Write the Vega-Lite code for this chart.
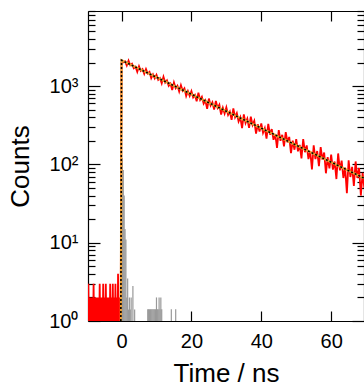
{
  "$schema": "https://vega.github.io/schema/vega-lite/v6.json",
  "width": 276,
  "height": 310,
  "autosize": {"type": "none"},
  "padding": {"left": 88, "top": 11, "right": 0, "bottom": 66},
  "background": "white",
  "config": {
    "font": "Liberation Sans",
    "view": {"stroke": null},
    "axis": {
      "grid": false,
      "domainColor": "#000000",
      "domainWidth": 1.2,
      "tickColor": "#000000",
      "tickWidth": 1.2,
      "labelFont": "Liberation Sans",
      "labelFontSize": 20,
      "labelColor": "#000000",
      "titleFont": "Liberation Sans",
      "titleFontSize": 26,
      "titleFontWeight": "normal",
      "titleColor": "#000000"
    }
  },
  "datasets": {
    "decay": [
      {"t": -9.75, "c": 2}, {"t": -9.625, "c": 1}, {"t": -9.5, "c": 3}, {"t": -9.375, "c": 1}, {"t": -9.25, "c": 2},
      {"t": -9.125, "c": 1}, {"t": -9, "c": 1}, {"t": -8.875, "c": 1}, {"t": -8.75, "c": 2}, {"t": -8.625, "c": 1},
      {"t": -8.5, "c": 2}, {"t": -8.375, "c": 1}, {"t": -8.25, "c": 2}, {"t": -8.125, "c": 1}, {"t": -8, "c": 3},
      {"t": -7.875, "c": 1}, {"t": -7.75, "c": 2}, {"t": -7.625, "c": 1}, {"t": -7.5, "c": 2}, {"t": -7.375, "c": 1},
      {"t": -7.25, "c": 1}, {"t": -7.125, "c": 1}, {"t": -7, "c": 2}, {"t": -6.875, "c": 1}, {"t": -6.75, "c": 2},
      {"t": -6.625, "c": 1}, {"t": -6.5, "c": 2}, {"t": -6.375, "c": 1}, {"t": -6.25, "c": 3}, {"t": -6.125, "c": 1},
      {"t": -6, "c": 2}, {"t": -5.875, "c": 1}, {"t": -5.75, "c": 2}, {"t": -5.625, "c": 1}, {"t": -5.5, "c": 2},
      {"t": -5.375, "c": 1}, {"t": -5.25, "c": 3}, {"t": -5.125, "c": 1}, {"t": -5, "c": 2}, {"t": -4.875, "c": 1},
      {"t": -4.75, "c": 2}, {"t": -4.625, "c": 1}, {"t": -4.5, "c": 3}, {"t": -4.375, "c": 1}, {"t": -4.25, "c": 1},
      {"t": -4.125, "c": 1}, {"t": -4, "c": 2}, {"t": -3.875, "c": 1}, {"t": -3.75, "c": 2}, {"t": -3.625, "c": 1},
      {"t": -3.5, "c": 2}, {"t": -3.375, "c": 1}, {"t": -3.25, "c": 3}, {"t": -3.125, "c": 1}, {"t": -3, "c": 2},
      {"t": -2.875, "c": 1}, {"t": -2.75, "c": 2}, {"t": -2.625, "c": 1}, {"t": -2.5, "c": 3}, {"t": -2.375, "c": 1},
      {"t": -2.25, "c": 1}, {"t": -2.125, "c": 1}, {"t": -2, "c": 2}, {"t": -1.875, "c": 1}, {"t": -1.75, "c": 3},
      {"t": -1.625, "c": 1}, {"t": -1.5, "c": 2}, {"t": -1.375, "c": 1}, {"t": -1.25, "c": 2}, {"t": -1.125, "c": 1},
      {"t": -1, "c": 4}, {"t": -0.875, "c": 1}, {"t": -0.75, "c": 2}, {"t": -0.625, "c": 1}, {"t": -0.5, "c": 2},
      {"t": -0.375, "c": 1}, {"t": -0.25, "c": 1},
      {"t": 0, "c": 2000}, {"t": 0.5, "c": 2003}, {"t": 1, "c": 2070}, {"t": 1.5, "c": 1832}, {"t": 2, "c": 2119},
      {"t": 2.5, "c": 1843}, {"t": 3, "c": 1926}, {"t": 3.5, "c": 1693}, {"t": 4, "c": 1767}, {"t": 4.5, "c": 1518},
      {"t": 5, "c": 1795}, {"t": 5.5, "c": 1568}, {"t": 6, "c": 1648}, {"t": 6.5, "c": 1435}, {"t": 7, "c": 1655},
      {"t": 7.5, "c": 1448}, {"t": 8, "c": 1518}, {"t": 8.5, "c": 1265}, {"t": 9, "c": 1408}, {"t": 9.5, "c": 1256},
      {"t": 10, "c": 1391}, {"t": 10.5, "c": 1201}, {"t": 11, "c": 1262}, {"t": 11.5, "c": 1086}, {"t": 12, "c": 1318},
      {"t": 12.5, "c": 1111}, {"t": 13, "c": 1183}, {"t": 13.5, "c": 1009}, {"t": 14, "c": 1076}, {"t": 14.5, "c": 888},
      {"t": 15, "c": 1112}, {"t": 15.5, "c": 941}, {"t": 16, "c": 1011}, {"t": 16.5, "c": 851}, {"t": 17, "c": 1028},
      {"t": 17.5, "c": 873}, {"t": 18, "c": 934}, {"t": 18.5, "c": 745}, {"t": 19, "c": 861}, {"t": 19.5, "c": 751},
      {"t": 20, "c": 861}, {"t": 20.5, "c": 718}, {"t": 21, "c": 771}, {"t": 21.5, "c": 639}, {"t": 22, "c": 824},
      {"t": 22.5, "c": 668}, {"t": 23, "c": 730}, {"t": 23.5, "c": 599}, {"t": 24, "c": 655}, {"t": 24.5, "c": 513},
      {"t": 25, "c": 693}, {"t": 25.5, "c": 564}, {"t": 26, "c": 621}, {"t": 26.5, "c": 503}, {"t": 27, "c": 645},
      {"t": 27.5, "c": 527}, {"t": 28, "c": 578}, {"t": 28.5, "c": 433}, {"t": 29, "c": 528}, {"t": 29.5, "c": 446},
      {"t": 30, "c": 534}, {"t": 30.5, "c": 428}, {"t": 31, "c": 472}, {"t": 31.5, "c": 371}, {"t": 32, "c": 520},
      {"t": 32.5, "c": 401}, {"t": 33, "c": 451}, {"t": 33.5, "c": 353}, {"t": 34, "c": 399}, {"t": 34.5, "c": 291},
      {"t": 35, "c": 434}, {"t": 35.5, "c": 337}, {"t": 36, "c": 384}, {"t": 36.5, "c": 293}, {"t": 37, "c": 407},
      {"t": 37.5, "c": 319}, {"t": 38, "c": 360}, {"t": 38.5, "c": 248}, {"t": 39, "c": 325}, {"t": 39.5, "c": 263},
      {"t": 40, "c": 334}, {"t": 40.5, "c": 253}, {"t": 41, "c": 290}, {"t": 41.5, "c": 213}, {"t": 42, "c": 330},
      {"t": 42.5, "c": 240}, {"t": 43, "c": 282}, {"t": 43.5, "c": 206}, {"t": 44, "c": 244}, {"t": 44.5, "c": 162},
      {"t": 45, "c": 274}, {"t": 45.5, "c": 200}, {"t": 46, "c": 239}, {"t": 46.5, "c": 170}, {"t": 47, "c": 258},
      {"t": 47.5, "c": 191}, {"t": 48, "c": 224}, {"t": 48.5, "c": 139}, {"t": 49, "c": 201}, {"t": 49.5, "c": 154},
      {"t": 50, "c": 210}, {"t": 50.5, "c": 147}, {"t": 51, "c": 177}, {"t": 51.5, "c": 119}, {"t": 52, "c": 211},
      {"t": 52.5, "c": 143}, {"t": 53, "c": 175}, {"t": 53.5, "c": 117}, {"t": 54, "c": 148}, {"t": 54.5, "c": 86},
      {"t": 55, "c": 175}, {"t": 55.5, "c": 117}, {"t": 56, "c": 148}, {"t": 56.5, "c": 95}, {"t": 57, "c": 166},
      {"t": 57.5, "c": 115}, {"t": 58, "c": 142}, {"t": 58.5, "c": 77}, {"t": 59, "c": 124}, {"t": 59.5, "c": 89},
      {"t": 60, "c": 133}, {"t": 60.5, "c": 86}, {"t": 61, "c": 109}, {"t": 61.5, "c": 65}, {"t": 62, "c": 138},
      {"t": 62.5, "c": 84}, {"t": 63, "c": 112}, {"t": 63.5, "c": 67}, {"t": 64, "c": 91}, {"t": 64.5, "c": 43},
      {"t": 65, "c": 113}, {"t": 65.5, "c": 69}, {"t": 66, "c": 93}, {"t": 66.5, "c": 53}, {"t": 67, "c": 109},
      {"t": 67.5, "c": 67}, {"t": 68, "c": 90}, {"t": 68.5, "c": 40}, {"t": 69, "c": 78}, {"t": 69.5, "c": 50}
    ],
    "irf": [
      {"t": 0, "c": 1500}, {"t": 0.25, "c": 120}, {"t": 0.5, "c": 85}, {"t": 0.75, "c": 40}, {"t": 1, "c": 15},
      {"t": 1.25, "c": 11}, {"t": 1.5, "c": 2}, {"t": 1.75, "c": 3.5}, {"t": 2, "c": 1.4}, {"t": 2.25, "c": 2},
      {"t": 2.5, "c": 1.4}, {"t": 2.75, "c": 2}, {"t": 3.25, "c": 2.8}, {"t": 3.75, "c": 1.4},
      {"t": 7.5, "c": 1.41}, {"t": 7.75, "c": 1.41}, {"t": 8, "c": 1.41}, {"t": 8.25, "c": 1.41}, {"t": 8.5, "c": 1.41},
      {"t": 8.75, "c": 1.41}, {"t": 9, "c": 1.41}, {"t": 9.25, "c": 1.41}, {"t": 9.5, "c": 1.41}, {"t": 9.75, "c": 1.41},
      {"t": 10, "c": 2}, {"t": 10.25, "c": 1.41}, {"t": 10.5, "c": 1.41}, {"t": 10.75, "c": 2}, {"t": 11, "c": 1.41},
      {"t": 11.25, "c": 2}, {"t": 11.5, "c": 1.41}, {"t": 14.25, "c": 1.41}, {"t": 15.5, "c": 1.41}
    ],
    "fit": [
      {"t": -0.2, "c": 1}, {"t": 0, "c": 2138}, {"t": 69.4, "c": 66.7}
    ]
  },
  "layer": [
    {
      "data": {"name": "irf"},
      "mark": {"type": "rule", "color": "#999999", "strokeWidth": 1.2, "clip": true},
      "encoding": {
        "x": {"field": "t", "type": "quantitative", "scale": {"domain": [-9.6, 69.4], "nice": false, "zero": false}, "axis": null},
        "y": {"field": "c", "type": "quantitative", "scale": {"type": "log", "domain": [1, 9100], "nice": false},
              "axis": {"orient": "left", "values": [2,3,4,5,6,7,8,9,20,30,40,50,60,70,80,90,200,300,400,500,600,700,800,900,2000,3000,4000,5000,6000,7000,8000,9000],
                       "tickSize": -7, "labels": false, "domain": false, "title": null}},
        "y2": {"datum": 1}
      }
    },
    {
      "data": {"name": "decay"},
      "mark": {"type": "line", "color": "#ff0000", "strokeWidth": 1.8, "clip": true},
      "encoding": {
        "x": {"field": "t", "type": "quantitative", "scale": {"domain": [-9.6, 69.4], "nice": false, "zero": false},
              "axis": {"orient": "bottom", "values": [0, 20, 40, 60], "tickSize": -10, "labelPadding": 20, "labelFlush": false, "title": "Time / ns", "titlePadding": 9}},
        "y": {"field": "c", "type": "quantitative", "scale": {"type": "log", "domain": [1, 9100], "nice": false},
              "axis": {"orient": "left", "values": [1, 10, 100, 1000], "tickSize": -12, "labelPadding": 22,
                       "labelExpr": "datum.value == 1 ? '10⁰' : datum.value == 10 ? '10¹' : datum.value == 100 ? '10²' : datum.value == 1000 ? '10³' : ''",
                       "title": "Counts", "titlePadding": 15}}
      }
    },
    {
      "data": {"name": "fit"},
      "mark": {"type": "line", "color": "#eea032", "strokeWidth": 2.2, "clip": true},
      "encoding": {
        "x": {"field": "t", "type": "quantitative", "scale": {"domain": [-9.6, 69.4], "nice": false, "zero": false},
              "axis": {"orient": "top", "values": [0, 20, 40, 60], "tickSize": -10, "labels": false, "title": null}},
        "y": {"field": "c", "type": "quantitative", "scale": {"type": "log", "domain": [1, 9100], "nice": false},
              "axis": {"orient": "right", "values": [1, 10, 100, 1000], "tickSize": -12, "labels": false, "title": null}}
      }
    },
    {
      "data": {"name": "fit"},
      "mark": {"type": "line", "color": "#000000", "strokeWidth": 1.6, "strokeDash": [2, 2], "clip": true},
      "encoding": {
        "x": {"field": "t", "type": "quantitative", "scale": {"domain": [-9.6, 69.4], "nice": false, "zero": false}, "axis": null},
        "y": {"field": "c", "type": "quantitative", "scale": {"type": "log", "domain": [1, 9100], "nice": false},
              "axis": {"orient": "right", "values": [2,3,4,5,6,7,8,9,20,30,40,50,60,70,80,90,200,300,400,500,600,700,800,900,2000,3000,4000,5000,6000,7000,8000,9000],
                       "tickSize": -7, "labels": false, "domain": false, "title": null}}
      }
    }
  ],
  "resolve": {"axis": {"x": "independent", "y": "independent"}}
}
